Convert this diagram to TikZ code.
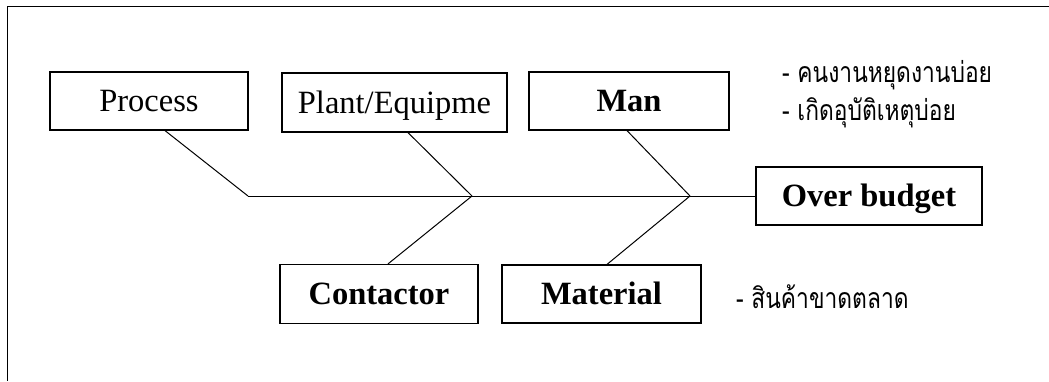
\documentclass[tikz,border=0pt]{standalone}
\usepackage{fontspec}
\setmainfont{Liberation Serif}
\newfontfamily\thaifont[Script=Thai,FakeStretch=0.8]{Loma}
\usetikzlibrary{positioning}

\begin{document}
\begin{tikzpicture}[x=1pt,y=-1pt,
		causebox/.style={draw,line width=1.2pt,inner sep=0pt,text height=21.5pt,text depth=0pt,font=\fontsize{32.5}{38}\selectfont},
		bone/.style={line width=1pt},
		note/.style={anchor=west,inner sep=0pt,font=\thaifont\fontsize{28.5}{32}\selectfont}]
			\useasboundingbox (0,0) rectangle (1049,381);
			% frame
			\draw[line width=1pt] (1049,6) -- (7,6) -- (7,381);
			% cause boxes
			\node[causebox,minimum width=198pt,minimum height=58pt] (process) at (149,101) {Process};
			\node[causebox,minimum width=225pt,minimum height=59pt] (plant) at (394.5,102.5) {Plant/Equipme};
			\node[causebox,minimum width=200pt,minimum height=58pt] (man) at (629,101) {\textbf{Man}};
			\node[causebox,minimum width=226pt,minimum height=58pt] (over) at (869,196) {\textbf{Over budget}};
			\node[causebox,minimum width=198pt,minimum height=59pt] (contactor) at (379,294) {\textbf{Contactor}};
			\node[causebox,minimum width=199pt,minimum height=58pt] (material) at (601.5,294) {\textbf{Material}};
			% spine
			\coordinate (tail) at (248,196);
			\coordinate (j1) at (472,196);
			\coordinate (j2) at (690,196);
			\draw[bone] (tail) -- (over.west);
			% bones
			\draw[bone] ([xshift=16pt]process.south) -- (tail);
			\draw[bone] ([xshift=13.5pt]plant.south) -- (j1);
			\draw[bone] ([xshift=-2pt]man.south) -- (j2);
			\draw[bone] (j1) -- ([xshift=9pt]contactor.north);
			\draw[bone] (j2) -- ([xshift=5.5pt]material.north);
			% notes
			\node[note] (n1) at (782,75) {- คนงานหยุดงานบ่อย};
			\node[note] (n2) at (782,113) {- เกิดอุบัติเหตุบ่อย};
			\node[note] (n3) at (736,297) {- สินค้าขาดตลาด};
		\end{tikzpicture}
\end{document}
